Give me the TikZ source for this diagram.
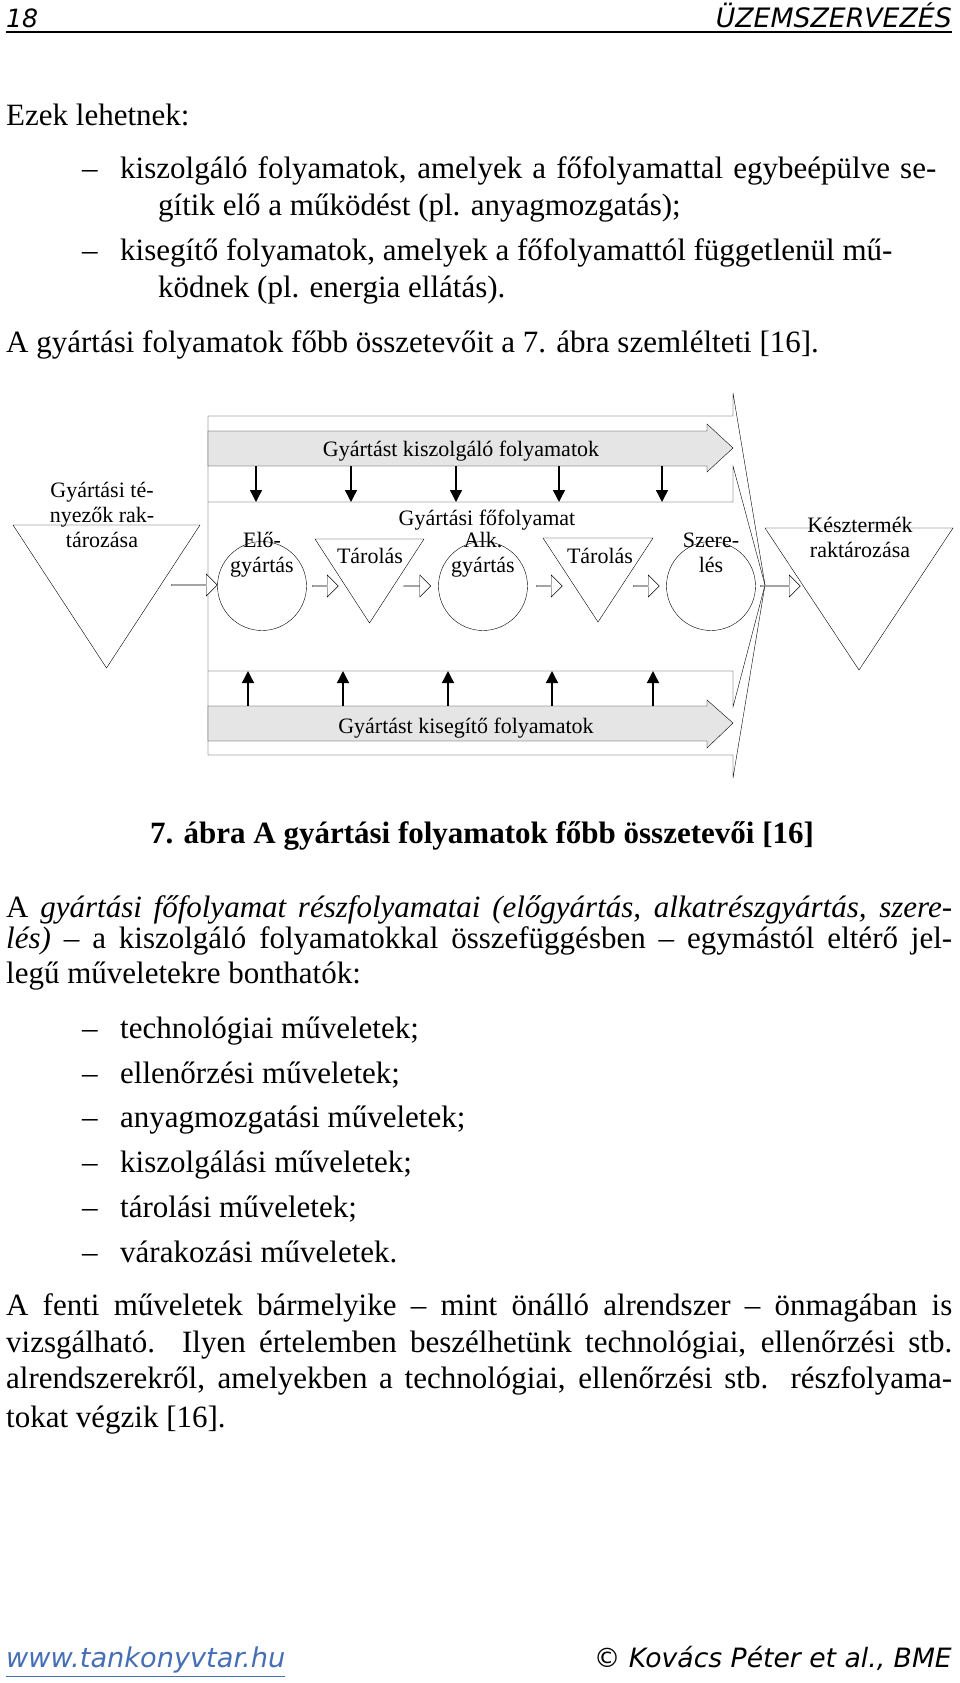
\documentclass[tikz,border=0pt]{standalone}
\usepackage{fontspec}
\setmainfont{Liberation Serif}
\newfontfamily\hdfont{DejaVu Sans}
\usetikzlibrary{arrows.meta,shapes.arrows,positioning}

\newcommand{\bodyfont}{\fontsize{31}{37}\selectfont}
\newcommand{\figfont}{\fontsize{22}{25}\selectfont}
\newcommand{\jline}[2]{\makebox[#1pt][s]{#2}}
% inverted triangle: left x, right x, top y, apex y
\newcommand{\invtri}[4]{\draw[thin] (#1,#3) -- (#2,#3) -- ({(#1+#2)/2},#4) -- cycle;}

\tikzset{
  body/.style={anchor=base west, inner sep=0, font=\bodyfont},
  figtext/.style={anchor=base, inner sep=0, font=\figfont, align=center},
  hollow/.style={single arrow, draw, thin, fill=white, minimum width=22pt,
    single arrow head extend=4pt, inner sep=0, single arrow tip angle=90},
  stage/.style={circle, draw, thin, minimum size=89pt, inner sep=0},
  band/.style={draw, thin, fill=gray!20},
  feed/.style={line width=1.4pt, -{Triangle[width=12pt,length=12pt]}}
}

\begin{document}
\begin{tikzpicture}[x=1pt,y=-1pt]
\useasboundingbox (0,0) rectangle (960,1683);

% header
\node[anchor=base west, inner sep=0] (pg) at (6,28) {\resizebox{32pt}{!}{\hdfont\itshape 18}};
\node[anchor=base east, inner sep=0] (hd) at (952,28) {\resizebox{236pt}{!}{\hdfont\itshape ÜZEMSZERVEZÉS}};
\draw[line width=1.2pt] (6,32) -- (952,32);

% text before the figure
\node[body] (t1) at (6,125) {Ezek lehetnek:};
\node[body] (d1) at (82,178) {–};
\node[body] (t2) at (120,178) {\jline{816}{kiszolgáló folyamatok, amelyek a főfolyamattal egybeépülve se-}};
\node[body] (t3) at (158,215) {gítik elő a működést (pl. anyagmozgatás);};
\node[body] (d2) at (82,260) {–};
\node[body] (t4) at (120,260) {kisegítő folyamatok, amelyek a főfolyamattól függetlenül mű-};
\node[body] (t5) at (158,297) {ködnek (pl. energia ellátás).};
\node[body] (t6) at (6,352) {A gyártási folyamatok főbb összetevőit a 7. ábra szemlélteti [16].};

% figure frame
\draw[thin] (208,416) -- (733,416) -- (733,393) -- (765,585) -- (733,778) -- (733,755) -- (208,755) -- cycle;
\draw[thin] (208,502) -- (733,502) -- (733,466) -- (765,585) -- (733,707) -- (733,671) -- (208,671);
\draw[band] (208,431) -- (707,431) -- (707,424) -- (733,448) -- (707,472) -- (707,466) -- (208,466) -- cycle;
\draw[band] (208,706) -- (707,706) -- (707,700) -- (733,723) -- (707,748) -- (707,741) -- (208,741) -- cycle;
\node[figtext] (serv) at (461,456) {Gyártást kiszolgáló folyamatok};
\node[figtext] (aux) at (466,733) {Gyártást kisegítő folyamatok};
\node[figtext] (main) at (487,525) {Gyártási főfolyamat};

\foreach \x in {256,351,456,559,662}
  \draw[feed] (\x,466) -- (\x,502);
\foreach \x in {248,343,448,552,653}
  \draw[feed] (\x,706) -- (\x,671);

% storages
\invtri{13}{200}{525}{668}
\invtri{315}{424}{539}{623}
\invtri{543}{653}{538}{622}
\invtri{765}{953}{528}{670}
\node[figtext] (inp) at (102,547) {Gyártási té-\\[0pt]nyezők rak-\\tározása};
\node[figtext] (st1) at (370,563) {Tárolás};
\node[figtext] (st2) at (600,563) {Tárolás};
\node[figtext] (out) at (860,557) {Késztermék\\raktározása};

% stages
\node[stage] (pre) at (262,586) {};
\node[stage] (alk) at (483,586) {};
\node[stage] (asm) at (711,586) {};
\node[figtext] at (262,572) {Elő-\\gyártás};
\node[figtext] at (483,572) {Alk.\\gyártás};
\node[figtext] at (711,572) {Szere-\\lés};

% flow arrows
\node[hollow, minimum height=46pt] (a1) at (194,585) {};
\node[hollow, minimum height=26pt] (a2) at (325,586) {};
\node[hollow, minimum height=27pt] (a3) at (417,586) {};
\node[hollow, minimum height=26pt] (a4) at (549,586) {};
\node[hollow, minimum height=26pt] (a5) at (646,586) {};
\node[hollow, minimum height=40pt] (a6) at (780,586) {};

% caption
\node[anchor=base, inner sep=0, font=\bodyfont\bfseries] (cap) at (482,843) {7. ábra A gyártási folyamatok főbb összetevői [16]};

% text after the figure
\node[body] (p1) at (6,917) {\jline{946}{A \textit{gyártási főfolyamat részfolyamatai (előgyártás, alkatrészgyártás, szere-}}};
\node[body] (p2) at (6,948) {\jline{946}{\textit{lés)} – a kiszolgáló folyamatokkal összefüggésben – egymástól eltérő jel-}};
\node[body] (p3) at (6,983) {legű műveletekre bonthatók:};
\foreach \y/\txt in {1038/technológiai műveletek;, 1083/ellenőrzési műveletek;,
    1127/anyagmozgatási műveletek;, 1172/kiszolgálási műveletek;,
    1217/tárolási műveletek;, 1262/várakozási műveletek.}{
  \node[body] at (82,\y) {–};
  \node[body] at (120,\y) {\txt};
}
\node[body] (q1) at (6,1315) {\jline{946}{A fenti műveletek bármelyike – mint önálló alrendszer – önmagában is}};
\node[body] (q2) at (6,1352) {\jline{946}{vizsgálható. Ilyen értelemben beszélhetünk technológiai, ellenőrzési stb.}};
\node[body] (q3) at (6,1388) {\jline{946}{alrendszerekről, amelyekben a technológiai, ellenőrzési stb. részfolyama-}};
\node[body] (q4) at (6,1427) {tokat végzik [16].};

% footer
\node[anchor=base west, inner sep=0, text={rgb,255:red,70;green,110;blue,180}] (url) at (6,1667) {\resizebox{279pt}{!}{\hdfont\itshape\underline{www.tankonyvtar.hu}}};
\node[anchor=base east, inner sep=0] (cr) at (952,1667) {\resizebox{358pt}{!}{\hdfont\itshape © Kovács Péter et al., BME}};
\end{tikzpicture}
\end{document}
